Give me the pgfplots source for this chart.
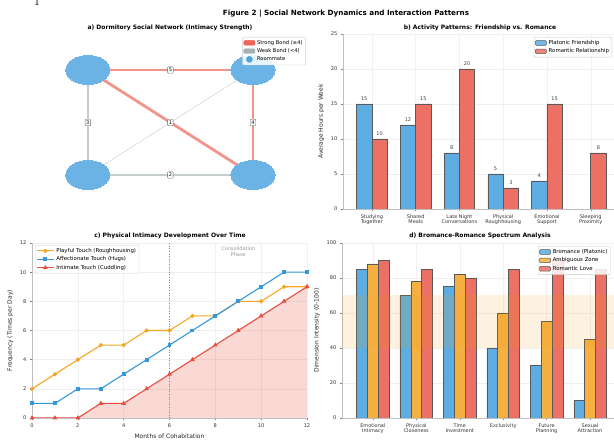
\documentclass[border=0pt]{standalone}
\usepackage{pgfplots}
\pgfplotsset{compat=1.18}
\usepackage{fontspec}
\setmainfont{DejaVu Sans}
\definecolor{cblue}{HTML}{3498DB}
\definecolor{nblue}{HTML}{6BB3E4}
\definecolor{cred}{HTML}{E74C3C}
\definecolor{corange}{HTML}{F39C12}
\definecolor{cgray}{HTML}{95A5A6}
\definecolor{bblue}{HTML}{5DADE2}
\definecolor{bred}{HTML}{EC7063}
\definecolor{borange}{HTML}{F5B041}
\definecolor{lorange}{HTML}{F5A623}
\pgfplotsset{
 myaxis/.style={
  scale only axis,
  axis x line*=bottom, axis y line*=left,
  axis line style={draw=black!25},
  tick style={draw=black!50, line width=0.4pt},
  tick align=outside, major tick length=2pt,
  grid=major, major grid style={draw=black!6, line width=0.4pt},
  tick label style={font=\fontsize{5.1}{6}\selectfont, text=black!80},
  label style={font=\fontsize{6}{7}\selectfont, text=black!85},
  /pgf/number format/assume math mode=true,
  legend style={font=\fontsize{5.4}{6.4}\selectfont, draw=black!20, rounded corners=1pt, fill=white, fill opacity=0.85, text opacity=1, inner sep=1pt, row sep=-1.2pt},
  legend cell align=left,
 },
 barleg/.style={legend image code/.code={\draw[##1, bar width=0pt] (0pt,-2.3pt) rectangle (11pt,2.3pt);}},
}
\tikzset{elab/.style={draw=black!60, fill=white, rounded corners=0.8pt, inner sep=0.6pt, minimum width=5.5pt, minimum height=6.5pt, font=\fontsize{5}{5.5}\selectfont}}
\begin{document}
\begin{tikzpicture}[x=1pt,y=1pt]
\useasboundingbox (0pt,0pt) rectangle (614pt,441pt);
% stray page number
\node[anchor=base, font=\fontsize{12}{12}\selectfont] at (37pt,435pt) {$1$};
% titles
\node[font=\bfseries\fontsize{7.2}{8}\selectfont] at (346pt,427pt) {Figure 2 | Social Network Dynamics and Interaction Patterns};
\node[font=\bfseries\fontsize{6}{7}\selectfont] at (170pt,413pt) {a) Dormitory Social Network (Intimacy Strength)};
\node[font=\bfseries\fontsize{6}{7}\selectfont] at (480pt,413pt) {b) Activity Patterns: Friendship vs. Romance};
\node[font=\bfseries\fontsize{6}{7}\selectfont] at (170pt,205pt) {c) Physical Intimacy Development Over Time};
\node[font=\bfseries\fontsize{6}{7}\selectfont] at (480pt,205pt) {d) Bromance-Romance Spectrum Analysis};

% ---------- panel a ----------
\begin{axis}[at={(30pt,211pt)}, anchor=south west, scale only axis, width=280pt, height=193pt,
 hide axis, xmin=-0.35, xmax=1.345, ymin=-0.524, ymax=1.314,
 legend style={at={(0.985,1.0)}, anchor=north east, font=\fontsize{5.2}{6.2}\selectfont, draw=black!20, rounded corners=1pt, fill=white, fill opacity=0.85, text opacity=1, inner sep=1pt, row sep=-1.2pt},
 legend cell align=left]
\addlegendimage{legend image code/.code={\fill[cred] (0pt,-2.3pt) rectangle (11pt,2.3pt);}}
\addlegendentry{Strong Bond (≥4)}
\addlegendimage{legend image code/.code={\fill[cgray] (0pt,-2.3pt) rectangle (11pt,2.3pt);}}
\addlegendentry{Weak Bond (<4)}
\addlegendimage{legend image code/.code={\fill[cblue] (5.5pt,0pt) circle (3pt);}}
\addlegendentry{Roommate}
\addplot[forget plot, only marks, nblue, mark=*, mark size=14.5pt, mark options={xscale=1.52, fill=nblue, draw=nblue, line width=0pt}] coordinates {(0,1) (1,1) (0,0) (1,0)};
\addplot[forget plot, cgray, opacity=0.55, line width=1.8pt] coordinates {(0,1) (0,0)};
\addplot[forget plot, cgray, opacity=0.55, line width=1.8pt] coordinates {(0,0) (1,0)};
\addplot[forget plot, black!18, line width=0.5pt] coordinates {(0,0) (1,1)};
\addplot[forget plot, cred, opacity=0.6, line width=2.8pt] coordinates {(0,1) (1,1)};
\addplot[forget plot, cred, opacity=0.6, line width=2.8pt] coordinates {(0,1) (1,0)};
\addplot[forget plot, cred, opacity=0.6, line width=2.8pt] coordinates {(1,1) (1,0)};
\node[elab] at (axis cs:0.5,1) {5};
\node[elab] at (axis cs:0,0.5) {3};
\node[elab] at (axis cs:0.5,0.5) {1};
\node[elab] at (axis cs:1,0.5) {4};
\node[elab] at (axis cs:0.5,0) {2};
\node[text=white, font=\bfseries\fontsize{6.5}{7}\selectfont] at (axis cs:0,1) {A};
\node[text=white, font=\bfseries\fontsize{6.5}{7}\selectfont] at (axis cs:1,1) {B};
\node[text=white, font=\bfseries\fontsize{6.5}{7}\selectfont] at (axis cs:0,0) {C};
\node[text=white, font=\bfseries\fontsize{6.5}{7}\selectfont] at (axis cs:1,0) {D};
\end{axis}

% ---------- panel b ----------
\begin{axis}[myaxis, at={(343pt,232pt)}, anchor=south west, width=274pt, height=175pt,
 xmin=-0.66, xmax=5.6, ymin=0, ymax=25, ytick={0,5,...,25},
 xtick={0,...,5},
 xticklabels={{Studying\\Together},{Shared\\Meals},{Late Night\\Conversations},{Physical\\Roughhousing},{Emotional\\Support},{Sleeping\\Proximity}},
 xticklabel style={align=center, font=\fontsize{5}{5.6}\selectfont},
 ylabel={Average Hours per Week},
 legend style={at={(0.697,0.983)}, anchor=north west},
 ybar, bar width=0.35, bar shift=0pt,
 nodes near coords, point meta=explicit symbolic,
 nodes near coords style={font=\fontsize{5}{5.5}\selectfont, text=black!75},
]
\addplot[barleg, fill=bblue, draw=black!65, line width=0.5pt] coordinates {(-0.175,15)[15] (0.825,12)[12] (1.825,8)[8] (2.825,5)[5] (3.825,4)[4]};
\addplot[barleg, fill=bred, draw=black!65, line width=0.5pt] coordinates {(0.175,10)[10] (1.175,15)[15] (2.175,20)[20] (3.175,3)[3] (4.175,15)[15] (5.175,8)[8]};
\legend{Platonic Friendship, Romantic Relationship}
\end{axis}

% ---------- panel c ----------
\begin{axis}[myaxis, at={(32pt,23pt)}, anchor=south west, width=275pt, height=175pt,
 xmin=0, xmax=12, ymin=0, ymax=12, xtick={0,2,...,12}, ytick={0,2,...,12},
 xlabel={Months of Cohabitation}, ylabel={Frequency (Times per Day)},
 legend style={at={(0.011,0.989)}, anchor=north west},
]
\addplot[forget plot, draw=none, fill=cred, fill opacity=0.22] coordinates {(0,0) (1,0) (2,0) (3,1) (4,1) (5,2) (6,3) (7,4) (8,5) (9,6) (10,7) (11,8) (12,9)} \closedcycle;
\addplot[lorange, line width=1.1pt, mark=*, mark size=1.5pt] coordinates {(0,2) (1,3) (2,4) (3,5) (4,5) (5,6) (6,6) (7,7) (8,7) (9,8) (10,8) (11,9) (12,9)};
\addplot[cblue, line width=1.1pt, mark=square*, mark size=1.4pt] coordinates {(0,1) (1,1) (2,2) (3,2) (4,3) (5,4) (6,5) (7,6) (8,7) (9,8) (10,9) (11,10) (12,10)};
\addplot[cred, line width=1.1pt, mark=triangle*, mark size=1.7pt] coordinates {(0,0) (1,0) (2,0) (3,1) (4,1) (5,2) (6,3) (7,4) (8,5) (9,6) (10,7) (11,8) (12,9)};
\draw[black!45, dotted, line width=0.6pt] (axis cs:6,0) -- (axis cs:6,12);
\node[align=center, text=black!40, font=\fontsize{5}{5.6}\selectfont] at (axis cs:9,11.4) {Consolidation\\Phase};
\legend{Playful Touch (Roughhousing), Affectionate Touch (Hugs), Intimate Touch (Cuddling)}
\end{axis}

% ---------- panel d ----------
\begin{axis}[myaxis, at={(342pt,23pt)}, anchor=south west, width=275pt, height=175pt,
 xmin=-0.71, xmax=5.62, ymin=0, ymax=100, ytick={0,20,...,100},
 xtick={0,...,5},
 xticklabels={{Emotional\\Intimacy},{Physical\\Closeness},{Time\\Investment},{Exclusivity},{Future\\Planning},{Sexual\\Attraction}},
 xticklabel style={align=center, font=\fontsize{5}{5.6}\selectfont},
 ylabel={Dimension Intensity (0-100)},
 legend style={at={(0.713,0.983)}, anchor=north west},
 ybar, bar width=0.25, bar shift=0pt,
]
\addplot[barleg, fill=bblue, draw=black!65, line width=0.5pt] coordinates {(-0.25,85) (0.75,70) (1.75,75) (2.75,40) (3.75,30) (4.75,10)};
\addplot[barleg, fill=borange, draw=black!65, line width=0.5pt] coordinates {(0,88) (1,78) (2,82) (3,60) (4,55) (5,45)};
\addplot[barleg, fill=bred, draw=black!65, line width=0.5pt] coordinates {(0.25,90) (1.25,85) (2.25,80) (3.25,85) (4.25,90) (5.25,85)};
\fill[corange, opacity=0.13] (axis cs:-0.71,40) rectangle (axis cs:5.62,70);
\legend{Bromance (Platonic), Ambiguous Zone, Romantic Love}
\end{axis}
\end{tikzpicture}
\end{document}
